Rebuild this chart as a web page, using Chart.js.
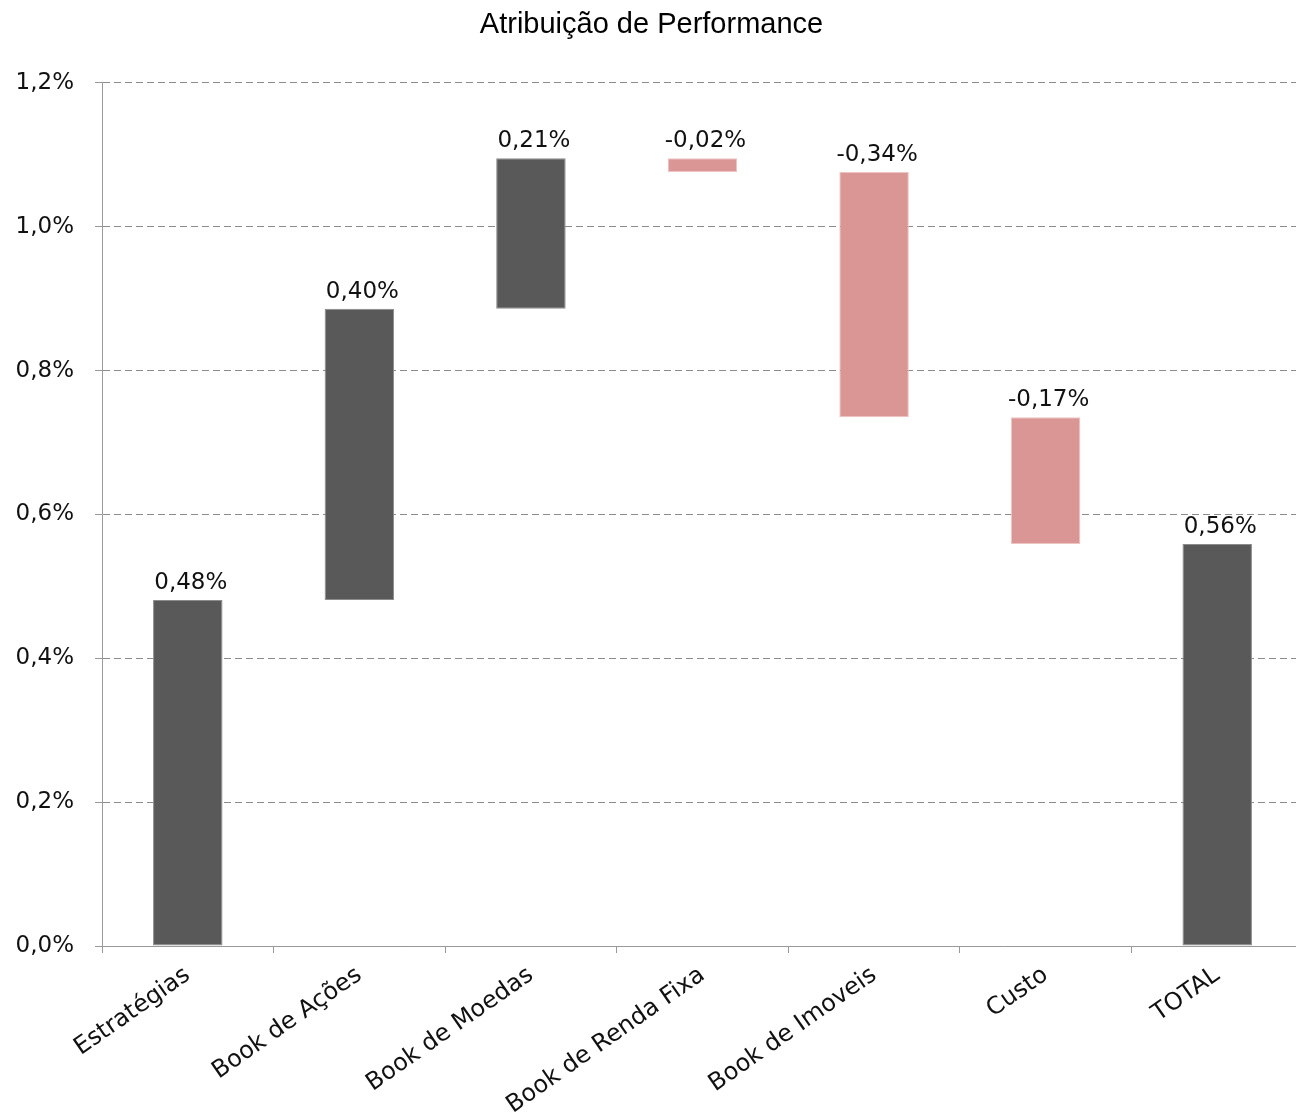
<!DOCTYPE html>
<html>
<head>
<meta charset="utf-8">
<script src="https://cdn.jsdelivr.net/npm/chart.js@4/dist/chart.umd.min.js"></script>
<style>
  body { margin: 0; background: #fff; overflow: hidden; }
  #wrap { width: 1303px; height: 1120px; }
</style>
</head>
<body>
<div id="wrap"><canvas id="myChart"></canvas></div>
<script>
// categorias e valores (em %)
const categories = ["Estratégias", "Book de Ações", "Book de Moedas", "Book de Renda Fixa", "Book de Imoveis", "Custo", "TOTAL"];
const contributions = [0.481, 0.405, 0.209, -0.019, -0.341, -0.176];
const total = 0.559;
const valueLabels = ["0,48%", "0,40%", "0,21%", "-0,02%", "-0,34%", "-0,17%", "0,56%"];
const yTicks = { min: 0, max: 1.2, step: 0.2 };

window.onload = function () {
  // monta as barras flutuantes (cascata)
  const bars = [];
  const colors = [];
  const borders = [];
  let acc = 0;
  contributions.forEach(function (v) {
    bars.push([acc, acc + v]);
    acc += v;
    colors.push(v >= 0 ? "#595959" : "#D99694");
    borders.push(v >= 0 ? "#8c8c8c" : "#eec4c3");
  });
  bars.push([0, total]);
  colors.push("#595959");
  borders.push("#8c8c8c");

  const labelPlugin = {
    id: "valueLabels",
    afterDatasetsDraw(chart) {
      const ctx = chart.ctx;
      const meta = chart.getDatasetMeta(0);
      ctx.save();
      ctx.font = "23px 'DejaVu Sans'";
      ctx.fillStyle = "#111";
      ctx.textAlign = "center";
      ctx.textBaseline = "alphabetic";
      meta.data.forEach(function (bar, i) {
        const top = Math.min(bar.y, bar.base);
        ctx.fillText(valueLabels[i], bar.x + 3, top - 11);
      });
      ctx.restore();
    },
  };

  const ctx = document.getElementById("myChart").getContext("2d");
  const config = {
    type: "bar",
    data: {
      labels: categories,
      datasets: [
        {
          data: bars,
          backgroundColor: colors,
          borderColor: borders,
          borderWidth: 1,
          borderSkipped: false,
          categoryPercentage: 1,
          barPercentage: 0.405,
        },
      ],
    },
    options: {
      responsive: true,
      maintainAspectRatio: false,
      animation: false,
      layout: { padding: 0 },
      plugins: {
        legend: { display: false },
        tooltip: { enabled: false },
        title: {
          display: true,
          text: "Atribuição de Performance",
          color: "#000",
          font: { family: "'Liberation Sans'", size: 29, weight: "normal" },
          padding: { top: 8, bottom: 40 },
        },
      },
      scales: {
        x: {
          afterFit: function (s) { s.height = 174; },
          grid: {
            offset: true,
            drawOnChartArea: false,
            color: "#999",
            tickLength: 7,
          },
          border: { color: "#999", width: 1 },
          ticks: {
            minRotation: 35,
            maxRotation: 35,
            padding: 8,
            color: "#111",
            font: { family: "'DejaVu Sans'", size: 24 },
          },
        },
        y: {
          min: yTicks.min,
          max: yTicks.max,
          afterFit: function (s) { s.width = 102; },
          grid: {
            color: "#8c8c8c",
            tickLength: 7,
            tickColor: "#999",
          },
          border: { color: "#999", width: 1, dash: [7, 4] },
          ticks: {
            stepSize: yTicks.step,
            padding: 21,
            color: "#111",
            font: { family: "'DejaVu Sans'", size: 23 },
            callback: function (v) {
              return v.toFixed(1).replace(".", ",") + "%";
            },
          },
        },
      },
    },
    plugins: [labelPlugin],
  };

  const myChart = new Chart(ctx, config);
};
</script>
</body>
</html>
